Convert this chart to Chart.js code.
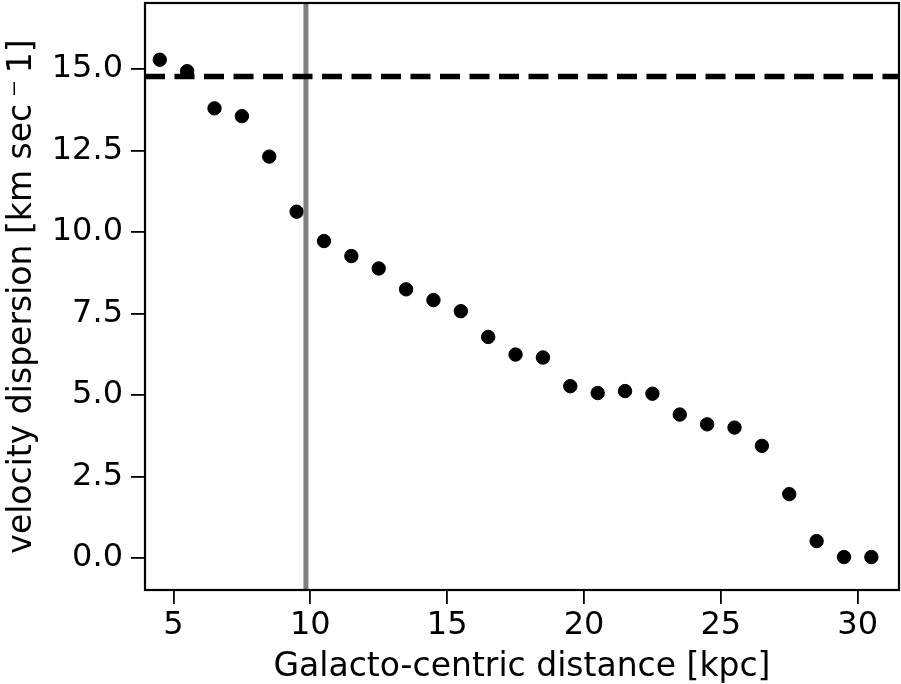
<!DOCTYPE html>
<html>
<head>
<meta charset="utf-8">
<script src="https://cdn.jsdelivr.net/npm/chart.js@4.4.1/dist/chart.umd.min.js"></script>
<style>
  html, body { margin: 0; padding: 0; background: #fff; }
  #wrap { width: 901px; height: 684px; }
</style>
</head>
<body>
<div id="wrap"><canvas id="dispersion-chart" width="901" height="684"></canvas></div>
<script>
// radial bins (kpc) and the measured velocity dispersion in each
const radius = [4.5, 5.5, 6.5, 7.5, 8.5, 9.5, 10.5, 11.5, 12.5, 13.5, 14.5, 15.5, 16.5, 17.5,
                18.5, 19.5, 20.5, 21.5, 22.5, 23.5, 24.5, 25.5, 26.5, 27.5, 28.5, 29.5, 30.5];
const sigma = [15.28, 14.93, 13.79, 13.55, 12.31, 10.62, 9.72, 9.26, 8.88, 8.24, 7.91, 7.57, 6.78, 6.24,
               6.15, 5.27, 5.06, 5.12, 5.04, 4.40, 4.10, 4.00, 3.44, 1.96, 0.52, 0.03, 0.03];

// reference levels
const sigmaRef = 14.77;
const radiusRef = 9.84;

const xTicks = [5, 10, 15, 20, 25, 30];
const yTicks = [0, 2.5, 5, 7.5, 10, 12.5, 15];
const xRange = [3.96, 31.51];
const yRange = [-0.98, 17.02];

const FONT = 'DejaVu Sans';

// box around the plot area
const frame = {
    id: 'frame',
    afterDatasetsDraw(chart) {
        const { ctx, chartArea: a } = chart;
        ctx.save();
        ctx.strokeStyle = '#000';
        ctx.lineWidth = 2.2;
        ctx.strokeRect(a.left, a.top, a.right - a.left, a.bottom - a.top);
        ctx.restore();
    }
};

// fixed axis boxes, no extra room for overhanging end labels
function fixBox(size) {
    return axis => {
        if (axis.isHorizontal()) axis.height = size;
        else axis.width = size;
        axis.paddingTop = 0;
        axis.paddingBottom = 0;
        axis.paddingLeft = 0;
        axis.paddingRight = 0;
    };
}

const ctx = document.getElementById('dispersion-chart').getContext('2d');
new Chart(ctx, {
    type: 'scatter',
    data: {
        datasets: [
            {
                label: 'sigma',
                data: radius.map((r, i) => ({ x: r, y: sigma[i] })),
                backgroundColor: '#000',
                borderColor: '#000',
                pointRadius: 6.7,
                pointHoverRadius: 6.7,
                order: 2
            },
            {
                type: 'line',
                label: 'ref sigma',
                data: [{ x: xRange[0], y: sigmaRef }, { x: xRange[1], y: sigmaRef }],
                borderColor: '#000',
                borderWidth: 5.5,
                borderDash: [20, 9.5],
                borderCapStyle: 'butt',
                pointRadius: 0,
                order: 1
            },
            {
                type: 'line',
                label: 'ref radius',
                data: [{ x: radiusRef, y: yRange[0] }, { x: radiusRef, y: yRange[1] }],
                borderColor: '#808080',
                borderWidth: 5,
                pointRadius: 0,
                order: 1
            }
        ]
    },
    options: {
        responsive: false,
        animation: false,
        layout: { autoPadding: false, padding: { top: 3, right: 2, left: 0, bottom: 0 } },
        plugins: {
            legend: { display: false },
            tooltip: { enabled: false }
        },
        scales: {
            x: {
                type: 'linear',
                min: xRange[0],
                max: xRange[1],
                afterBuildTicks: axis => { axis.ticks = xTicks.map(v => ({ value: v })); },
                afterFit: fixBox(94),
                grid: { drawOnChartArea: false, color: '#000', lineWidth: 1.8, tickLength: 14 },
                border: { display: false },
                ticks: { color: '#000', font: { family: FONT, size: 32 }, padding: 2, maxRotation: 0 },
                title: {
                    display: true,
                    text: 'Galacto-centric distance [kpc]',
                    color: '#000',
                    font: { family: FONT, size: 33, lineHeight: 1 },
                    padding: { top: 0, bottom: 0 }
                }
            },
            y: {
                type: 'linear',
                min: yRange[0],
                max: yRange[1],
                afterBuildTicks: axis => { axis.ticks = yTicks.map(v => ({ value: v })); },
                afterFit: fixBox(145),
                grid: { drawOnChartArea: false, color: '#000', lineWidth: 1.8, tickLength: 14 },
                border: { display: false },
                ticks: {
                    color: '#000',
                    font: { family: FONT, size: 32 },
                    padding: 8,
                    callback: v => v.toFixed(1)
                },
                title: {
                    display: true,
                    text: 'velocity dispersion [km sec\u2009\u207B\u20091]',
                    color: '#000',
                    font: { family: FONT, size: 33, lineHeight: 1 },
                    padding: { top: 6, bottom: 0 }
                }
            }
        }
    },
    plugins: [frame]
});
</script>
</body>
</html>
